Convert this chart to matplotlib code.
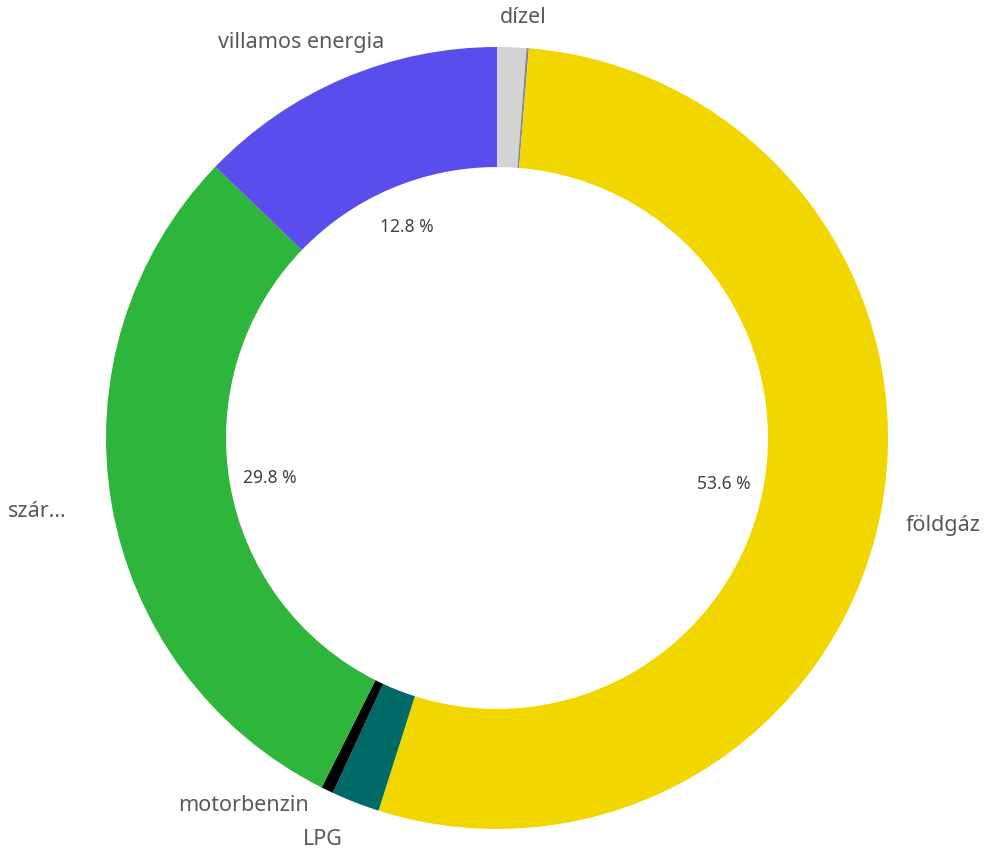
import numpy as np
import matplotlib.pyplot as plt

# Adatok (óramutató járásával megegyezően, 12 órától)
labels = ['dízel', '', 'földgáz', 'LPG', 'motorbenzin', 'szár...', 'villamos energia']
values = [1.2, 0.1, 53.6, 2.0, 0.5, 29.8, 12.8]
colors = ['#d3d3d3', '#8a8a8a', '#f2d600', '#006b66', '#000000', '#2db53c', '#594eed']
pct_min = 5.0

# címkék finomhangolása (pixel eltolás: jobbra, le)
nudge = {'dízel': (-13, -7), 'villamos energia': (49, -15), 'szár...': (-22, 3),
         'földgáz': (2, 6), 'motorbenzin': (-8, -7), 'LPG': (-4, 14)}

W, H = 984, 854
fig = plt.figure(figsize=(W / 100, H / 100), dpi=100)
ax = fig.add_axes([0, 0, 1, 1])

cx, cy, R = 497, H - 439, 391
width = 0.307

wedges, _ = ax.pie(values, colors=colors, startangle=90, counterclock=False,
                   center=(cx, cy), radius=R, wedgeprops=dict(width=R * width, linewidth=0),
                   frame=True)
ax.set_xlim(0, W)
ax.set_ylim(0, H)
ax.set_aspect('equal')
ax.axis('off')

font = 'Noto Sans'
for w, lab, v in zip(wedges, labels, values):
    mid = np.deg2rad((w.theta1 + w.theta2) / 2)
    c, s = np.cos(mid), np.sin(mid)
    if v >= pct_min:
        r_in = R * 0.59
        ax.text(cx + r_in * c, cy + r_in * s, f'{v:.1f} %', ha='center', va='center',
                fontsize=12.5, color='#404040', family=font)
    if lab:
        r_out = R * 1.06
        dx, dy = nudge.get(lab, (0, 0))
        ha = 'left' if c > 0 else 'right'
        ax.text(cx + r_out * c + dx, cy + r_out * s - dy, lab, ha=ha, va='center',
                fontsize=15.5, color='#595959', family=font)

fig.savefig('out.png', dpi=100, facecolor='white')
